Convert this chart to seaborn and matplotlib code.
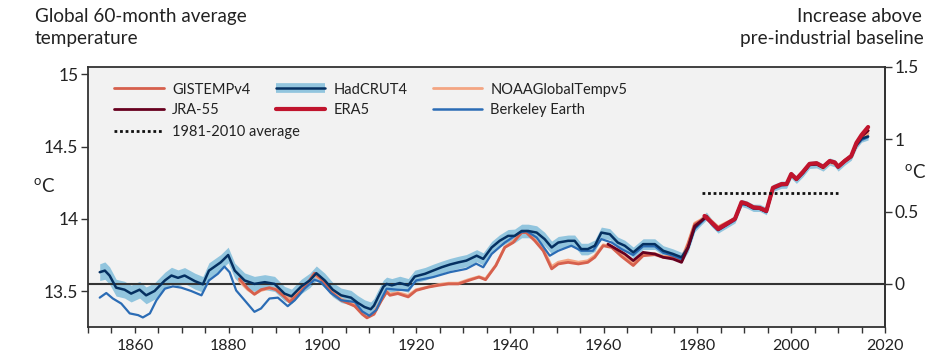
import numpy as np
import pandas as pd
import matplotlib
matplotlib.use("Agg")
import matplotlib.pyplot as plt
import seaborn as sns
from matplotlib.lines import Line2D
from matplotlib.ticker import MultipleLocator, FixedLocator

# ---------------- data (anomaly above pre-industrial baseline, degC) ----------------
BASELINE_ABS = 13.55  # absolute temperature of the pre-industrial baseline

# (year, 60-month mean anomaly, uncertainty half-width)
hadcrut4 = [
    (1852.5, 0.081, 0.058), (1853.6, 0.092, 0.060), (1854.6, 0.058, 0.060), (1856.0, -0.026, 0.058),
    (1857.8, -0.040, 0.058), (1859.2, -0.067, 0.058), (1861.0, -0.040, 0.058), (1862.4, -0.079, 0.058),
    (1864.2, -0.049, 0.057), (1866.4, 0.024, 0.057), (1867.8, 0.058, 0.057), (1869.2, 0.042, 0.055),
    (1870.6, 0.058, 0.055), (1872.8, 0.019, 0.055), (1874.5, -0.003, 0.054), (1875.8, 0.092, 0.054),
    (1878.3, 0.149, 0.054), (1879.9, 0.200, 0.054), (1881.3, 0.092, 0.052), (1883.4, 0.024, 0.052),
    (1885.5, 0.000, 0.052), (1887.7, 0.012, 0.052), (1889.8, 0.000, 0.052), (1891.9, -0.067, 0.050),
    (1893.4, -0.086, 0.050), (1895.5, -0.017, 0.050), (1897.3, 0.024, 0.050), (1898.7, 0.074, 0.050),
    (1900.5, 0.024, 0.050), (1902.2, -0.040, 0.050), (1904.0, -0.079, 0.050), (1906.1, -0.095, 0.050),
    (1907.5, -0.130, 0.050), (1909.0, -0.160, 0.050), (1910.3, -0.175, 0.050), (1911.0, -0.150, 0.050),
    (1911.9, -0.090, 0.050), (1913.0, -0.020, 0.047), (1913.7, 0.000, 0.047), (1914.8, -0.010, 0.047),
    (1916.5, 0.006, 0.047), (1918.3, -0.010, 0.047), (1919.7, 0.051, 0.044), (1921.9, 0.070, 0.044),
    (1923.6, 0.092, 0.044), (1925.4, 0.115, 0.042), (1927.2, 0.134, 0.042), (1929.0, 0.149, 0.042),
    (1930.7, 0.161, 0.042), (1932.9, 0.195, 0.042), (1934.3, 0.173, 0.042), (1936.1, 0.252, 0.042),
    (1937.8, 0.298, 0.042), (1939.6, 0.332, 0.044), (1941.0, 0.332, 0.047), (1942.5, 0.366, 0.047),
    (1943.9, 0.366, 0.047), (1945.7, 0.355, 0.047), (1947.4, 0.310, 0.047), (1948.9, 0.252, 0.044),
    (1950.3, 0.286, 0.042), (1952.4, 0.298, 0.040), (1953.8, 0.298, 0.040), (1955.2, 0.241, 0.040),
    (1956.6, 0.241, 0.040), (1958.1, 0.264, 0.040), (1959.5, 0.355, 0.038), (1961.3, 0.344, 0.038),
    (1963.0, 0.286, 0.038), (1964.5, 0.264, 0.038), (1966.3, 0.218, 0.037), (1968.4, 0.275, 0.037),
    (1970.9, 0.275, 0.037), (1972.7, 0.229, 0.035), (1974.8, 0.207, 0.035), (1976.6, 0.184, 0.034),
    (1978.0, 0.252, 0.032), (1979.4, 0.389, 0.030), (1980.8, 0.435, 0.028), (1981.9, 0.469, 0.028),
    (1983.0, 0.423, 0.027), (1984.4, 0.378, 0.027), (1986.2, 0.412, 0.026), (1988.0, 0.447, 0.026),
    (1989.4, 0.560, 0.025), (1990.5, 0.549, 0.025), (1991.9, 0.526, 0.025), (1993.3, 0.526, 0.025),
    (1994.7, 0.503, 0.025), (1996.1, 0.663, 0.025), (1997.9, 0.686, 0.025), (1999.0, 0.686, 0.025),
    (2000.0, 0.755, 0.025), (2001.1, 0.720, 0.025), (2002.5, 0.766, 0.025), (2003.9, 0.823, 0.025),
    (2005.4, 0.827, 0.025), (2006.8, 0.805, 0.025), (2008.2, 0.846, 0.025), (2009.3, 0.834, 0.025),
    (2010.0, 0.805, 0.025), (2011.4, 0.846, 0.025), (2012.8, 0.880, 0.025), (2013.9, 0.960, 0.025),
    (2015.0, 1.005, 0.025), (2016.4, 1.020, 0.025),
]

berkeley = [
    (1852.5, -0.095), (1853.9, -0.063), (1855.3, -0.101), (1857.1, -0.136), (1858.9, -0.204),
    (1860.7, -0.216), (1861.7, -0.232), (1863.2, -0.204), (1864.6, -0.113), (1866.4, -0.033),
    (1868.1, -0.017), (1869.9, -0.026), (1872.0, -0.049), (1874.2, -0.079), (1875.8, 0.024),
    (1877.7, 0.070), (1879.1, 0.120), (1880.2, 0.081), (1881.6, -0.045), (1883.4, -0.113),
    (1885.5, -0.193), (1886.9, -0.170), (1888.7, -0.101), (1890.5, -0.095), (1892.6, -0.154),
    (1894.1, -0.113), (1896.2, -0.033), (1898.3, 0.029), (1899.7, 0.012), (1901.8, -0.063),
    (1904.0, -0.113), (1906.9, -0.125), (1908.5, -0.190), (1910.0, -0.220), (1911.5, -0.180),
    (1912.8, -0.090), (1913.7, -0.033), (1916.0, -0.040), (1918.3, -0.045), (1920.0, 0.024),
    (1923.6, 0.047), (1927.2, 0.081), (1930.7, 0.104), (1932.8, 0.140), (1934.3, 0.115),
    (1936.1, 0.207), (1938.9, 0.286), (1942.1, 0.355), (1943.5, 0.366), (1945.7, 0.321),
    (1948.5, 0.195), (1950.3, 0.229), (1953.1, 0.264), (1955.2, 0.229), (1957.7, 0.229),
    (1959.5, 0.310), (1961.7, 0.286), (1963.8, 0.241), (1966.3, 0.200), (1968.4, 0.260),
    (1970.9, 0.260), (1972.7, 0.215), (1974.8, 0.195), (1976.6, 0.170), (1978.0, 0.245),
    (1979.4, 0.380), (1980.8, 0.425), (1981.9, 0.460), (1983.0, 0.415), (1984.4, 0.370),
    (1986.2, 0.405), (1988.0, 0.440), (1989.4, 0.550), (1990.5, 0.545), (1991.9, 0.520),
    (1993.3, 0.520), (1994.7, 0.495), (1996.1, 0.655), (1997.9, 0.680), (1999.0, 0.685),
    (2000.0, 0.750), (2001.1, 0.720), (2002.5, 0.765), (2003.9, 0.820), (2005.4, 0.830),
    (2006.8, 0.805), (2008.2, 0.845), (2009.3, 0.835), (2010.0, 0.810), (2011.4, 0.845),
    (2012.8, 0.875), (2013.9, 0.955), (2015.0, 0.995), (2016.4, 1.015),
]

gistemp = [
    (1882.3, 0.035), (1884.1, -0.033), (1885.5, -0.072), (1886.9, -0.040), (1888.7, -0.026),
    (1890.1, -0.040), (1891.9, -0.090), (1893.0, -0.125), (1894.8, -0.072), (1896.5, -0.010),
    (1898.3, 0.074), (1899.7, 0.035), (1901.8, -0.056), (1904.0, -0.113), (1906.9, -0.154),
    (1908.5, -0.210), (1909.5, -0.235), (1911.0, -0.210), (1912.5, -0.120), (1913.7, -0.056),
    (1914.4, -0.079), (1916.1, -0.067), (1918.3, -0.090), (1920.0, -0.045), (1922.6, -0.022),
    (1924.7, -0.010), (1926.9, 0.000), (1929.0, 0.000), (1931.2, 0.024), (1933.4, 0.047),
    (1934.8, 0.029), (1937.0, 0.127), (1938.9, 0.252), (1940.7, 0.286), (1942.5, 0.355),
    (1943.5, 0.355), (1945.3, 0.298), (1947.1, 0.229), (1948.9, 0.104), (1950.3, 0.138),
    (1952.4, 0.149), (1954.6, 0.138), (1956.6, 0.149), (1958.1, 0.184), (1959.9, 0.264),
    (1961.7, 0.252), (1963.8, 0.190), (1966.3, 0.127), (1968.4, 0.195), (1970.9, 0.202),
    (1972.7, 0.184), (1974.8, 0.184), (1976.6, 0.161), (1978.0, 0.275), (1979.4, 0.412),
    (1980.8, 0.440), (1981.9, 0.470), (1983.0, 0.430), (1984.4, 0.390), (1986.2, 0.420),
    (1988.0, 0.450), (1989.4, 0.565), (1990.5, 0.555), (1991.9, 0.530), (1993.3, 0.525),
    (1994.7, 0.510), (1996.1, 0.665), (1997.9, 0.690), (1999.0, 0.690), (2000.0, 0.755),
    (2001.1, 0.730), (2002.5, 0.775), (2003.9, 0.830), (2005.4, 0.835), (2006.8, 0.810),
    (2008.2, 0.850), (2009.3, 0.840), (2010.0, 0.815), (2011.4, 0.855), (2012.8, 0.885),
    (2013.9, 0.970), (2015.0, 1.020), (2016.4, 1.060),
]

noaa = [
    (1882.3, 0.020), (1884.1, -0.040), (1885.5, -0.070), (1886.9, -0.045), (1888.7, -0.030),
    (1890.1, -0.035), (1891.9, -0.075), (1893.0, -0.105), (1894.8, -0.065), (1896.5, -0.015),
    (1898.3, 0.060), (1899.7, 0.030), (1901.8, -0.050), (1904.0, -0.105), (1906.9, -0.145),
    (1908.5, -0.200), (1909.5, -0.225), (1911.0, -0.200), (1912.5, -0.115), (1913.7, -0.050),
    (1914.4, -0.070), (1916.1, -0.060), (1918.3, -0.080), (1920.0, -0.040), (1922.6, -0.020),
    (1924.7, -0.005), (1926.9, 0.005), (1929.0, 0.005), (1931.2, 0.030), (1933.4, 0.050),
    (1934.8, 0.035), (1937.0, 0.130), (1938.9, 0.255), (1940.7, 0.295), (1942.5, 0.360),
    (1943.5, 0.360), (1945.3, 0.305), (1947.1, 0.240), (1948.9, 0.120), (1950.3, 0.150),
    (1952.4, 0.165), (1954.6, 0.150), (1956.6, 0.160), (1958.1, 0.195), (1959.9, 0.270),
    (1961.7, 0.260), (1963.8, 0.200), (1966.3, 0.140), (1968.4, 0.205), (1970.9, 0.210),
    (1972.7, 0.190), (1974.8, 0.190), (1976.6, 0.170), (1978.0, 0.285), (1979.4, 0.420),
    (1980.8, 0.445), (1981.9, 0.470), (1983.0, 0.435), (1984.4, 0.395), (1986.2, 0.425),
    (1988.0, 0.450), (1989.4, 0.560), (1990.5, 0.550), (1991.9, 0.530), (1993.3, 0.525),
    (1994.7, 0.505), (1996.1, 0.660), (1997.9, 0.685), (1999.0, 0.690), (2000.0, 0.750),
    (2001.1, 0.725), (2002.5, 0.770), (2003.9, 0.825), (2005.4, 0.830), (2006.8, 0.800),
    (2008.2, 0.840), (2009.3, 0.830), (2010.0, 0.810), (2011.4, 0.845), (2012.8, 0.875),
    (2013.9, 0.955), (2015.0, 1.000), (2016.4, 1.040),
]

jra55 = [
    (1960.9, 0.275), (1962.5, 0.245), (1964.5, 0.207), (1966.3, 0.161), (1968.4, 0.218),
    (1970.9, 0.207), (1972.7, 0.184), (1974.8, 0.172), (1976.6, 0.149), (1978.0, 0.252),
    (1979.4, 0.400), (1980.8, 0.435), (1981.9, 0.465), (1983.0, 0.420), (1984.4, 0.375),
    (1986.2, 0.410), (1988.0, 0.450), (1989.4, 0.565), (1990.5, 0.550), (1991.9, 0.525),
    (1993.3, 0.520), (1994.7, 0.500), (1996.1, 0.665), (1997.9, 0.690), (1999.0, 0.690),
    (2000.0, 0.760), (2001.1, 0.725), (2002.5, 0.770), (2003.9, 0.825), (2005.4, 0.830),
    (2006.8, 0.805), (2008.2, 0.850), (2009.3, 0.840), (2010.0, 0.810), (2011.4, 0.850),
    (2012.8, 0.885), (2013.9, 0.965), (2015.0, 1.020), (2016.4, 1.060),
]

era5 = [
    (1981.5, 0.470), (1983.0, 0.425), (1984.4, 0.380), (1986.2, 0.415), (1988.0, 0.450),
    (1989.4, 0.565), (1990.5, 0.555), (1991.9, 0.530), (1993.3, 0.525), (1994.7, 0.505),
    (1996.1, 0.665), (1997.9, 0.690), (1999.0, 0.690), (2000.0, 0.760), (2001.1, 0.725),
    (2002.5, 0.775), (2003.9, 0.830), (2005.4, 0.835), (2006.8, 0.810), (2008.2, 0.850),
    (2009.3, 0.840), (2010.0, 0.810), (2011.4, 0.850), (2012.8, 0.885), (2013.9, 0.975),
    (2015.0, 1.030), (2016.4, 1.085),
]

avg_period = [1981, 2010]
avg_value = 0.63

left_ticks = [13.5, 14, 14.5, 15]
left_labels = ["13.5", "14", "14.5", "15"]
right_ticks = [0, 0.5, 1, 1.5]
right_labels = ["0", "0.5", "1", "1.5"]
x_major = [1860, 1880, 1900, 1920, 1940, 1960, 1980, 2000, 2020]

# ---------------- styling ----------------
sns.set_theme(style="ticks")
plt.rcParams['font.family'] = ['Lato', 'DejaVu Sans']
plt.rcParams['mathtext.fontset'] = 'custom'
plt.rcParams['mathtext.rm'] = 'Lato'
plt.rcParams['mathtext.it'] = 'Lato'

C_GIS = "#d6604d"
C_HAD = "#053061"
C_BAND = "#92c5de"
C_NOAA = "#f4a582"
C_JRA = "#67001f"
C_ERA = "#c0142d"
C_BERK = "#2b6cb5"
TXT = "#222222"

W, H = 936, 362
fig = plt.figure(figsize=(W / 100, H / 100), dpi=100)
ax = fig.add_axes([88 / W, 1 - 327 / H, 797 / W, 260 / H])
ax.set_facecolor("#f2f2f2")


def to_df(rows, cols):
    df = pd.DataFrame(rows, columns=cols)
    df["temp"] = df["anom"] + BASELINE_ABS
    return df


had = to_df(hadcrut4, ["year", "anom", "err"])
ax.fill_between(had["year"], had["temp"] - had["err"], had["temp"] + had["err"],
                color=C_BAND, lw=0, zorder=1)
ax.axhline(BASELINE_ABS, color="#333333", lw=1.5, zorder=2)

series = [
    (to_df(noaa, ["year", "anom"]), C_NOAA, 2.0),
    (to_df(gistemp, ["year", "anom"]), C_GIS, 2.0),
    (to_df(berkeley, ["year", "anom"]), C_BERK, 1.6),
    (had, C_HAD, 1.8),
    (to_df(jra55, ["year", "anom"]), C_JRA, 2.0),
    (to_df(era5, ["year", "anom"]), C_ERA, 3.0),
]
for i, (df, col, lw) in enumerate(series):
    sns.lineplot(data=df, x="year", y="temp", ax=ax, color=col, lw=lw,
                 estimator=None, sort=False, legend=False, zorder=3 + i)

ax.plot(avg_period, [avg_value + BASELINE_ABS] * 2, color="#111111", lw=2,
        linestyle=(0, (1, 1)), zorder=10)

# axes limits / ticks
ax.set_xlim(1850, 2020)
ax.set_ylim(BASELINE_ABS - 0.298, BASELINE_ABS + 1.5)
ax.set_xlabel("")
ax.set_ylabel("")
ax.xaxis.set_major_locator(FixedLocator(x_major))
ax.xaxis.set_minor_locator(MultipleLocator(5))
ax.set_yticks(left_ticks)
ax.set_yticklabels(left_labels)
ax.tick_params(axis="both", which="both", direction="out", colors="#333333",
               labelcolor=TXT, width=1.0)
ax.tick_params(axis="x", which="both", length=4.5, labelsize=11.5, pad=4)
ax.tick_params(axis="y", which="major", length=5, labelsize=12.5, pad=2)
for s in ax.spines.values():
    s.set_visible(True)
    s.set_color("#333333")
    s.set_linewidth(1.3)

sec = ax.secondary_yaxis("right", functions=(lambda t: t - BASELINE_ABS,
                                             lambda a: a + BASELINE_ABS))
sec.set_yticks(right_ticks)
sec.set_yticklabels(right_labels)
sec.tick_params(axis="y", direction="out", length=5, width=1.0, colors="#333333",
                labelcolor=TXT, labelsize=12.5, pad=2)
sec.spines["right"].set_color("#333333")
sec.spines["right"].set_linewidth(1.3)

# legends
h_gis = Line2D([], [], color=C_GIS, lw=2)
h_jra = Line2D([], [], color=C_JRA, lw=2)
h_had = (Line2D([], [], color=C_BAND, lw=7, solid_capstyle="butt"),
         Line2D([], [], color=C_HAD, lw=1.8))
h_era = Line2D([], [], color=C_ERA, lw=3)
h_noaa = Line2D([], [], color=C_NOAA, lw=2)
h_berk = Line2D([], [], color=C_BERK, lw=1.8)
leg1 = ax.legend([h_gis, h_jra, h_had, h_era, h_noaa, h_berk],
                 ["GISTEMPv4", "JRA-55", "HadCRUT4", "ERA5", "NOAAGlobalTempv5", "Berkeley Earth"],
                 ncol=3, loc="upper left", bbox_to_anchor=(0.033, 0.94), frameon=False,
                 fontsize=10.5, handlelength=3.4, handletextpad=0.55, columnspacing=1.75,
                 labelspacing=0.45, borderpad=0, borderaxespad=0, labelcolor=TXT)
ax.add_artist(leg1)
h_avg = Line2D([], [], color="#111111", lw=2, linestyle=(0, (1, 1)))
ax.legend([h_avg], ["1981-2010 average"], loc="upper left", bbox_to_anchor=(0.033, 0.775),
          frameon=False, fontsize=10.5, handlelength=3.4, handletextpad=0.55,
          borderpad=0, borderaxespad=0, labelcolor=TXT)

# titles and unit labels
fig.text(35 / W, 1 - 22 / H, "Global 60-month average", ha="left", va="baseline",
         fontsize=13.6, color=TXT)
fig.text(35 / W, 1 - 44 / H, "temperature", ha="left", va="baseline",
         fontsize=13.6, color=TXT)
fig.text(922 / W, 1 - 22 / H, "Increase above", ha="right", va="baseline",
         fontsize=13.6, color=TXT)
fig.text(924 / W, 1 - 44 / H, "pre-industrial baseline", ha="right", va="baseline",
         fontsize=13.6, color=TXT)
fig.text(44 / W, 1 - 186 / H, "$^{\\mathrm{o}}$C", ha="center", va="center", fontsize=13.5, color=TXT)
fig.text(915 / W, 1 - 172 / H, "$^{\\mathrm{o}}$C", ha="center", va="center", fontsize=13.5, color=TXT)

fig.savefig("out.png", dpi=100, facecolor="white")
